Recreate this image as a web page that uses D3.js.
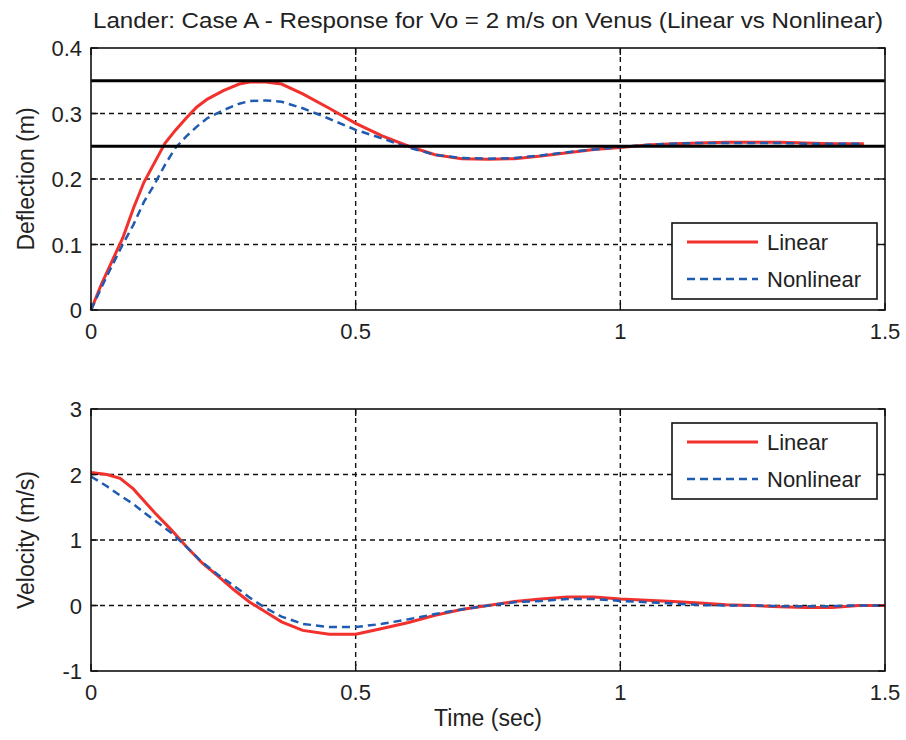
<!DOCTYPE html>
<html>
<head>
<meta charset="utf-8">
<script src="https://cdn.jsdelivr.net/npm/d3@7"></script>
<style>
    body { margin: 0; background: #fff; }
    text { font-family: "Liberation Sans", Arial, sans-serif; fill: #222; }
</style>
</head>
<body>
<svg id="chart" width="906" height="740"></svg>
<script>
// values
var titleText = "Lander:  Case A - Response for Vo = 2 m/s on Venus (Linear vs Nonlinear)";
var seriesNames = ["Linear", "Nonlinear"];

var tDefl = [0, 0.02, 0.04, 0.06, 0.08, 0.10, 0.12, 0.14, 0.16, 0.18, 0.20, 0.22, 0.25, 0.28, 0.30,
    0.33, 0.36, 0.40, 0.45, 0.50, 0.55, 0.60, 0.65, 0.70, 0.75, 0.80, 0.85, 0.90, 0.95, 1.00,
    1.05, 1.10, 1.15, 1.20, 1.25, 1.30, 1.35, 1.40, 1.46];
var deflLinear = [0, 0.04, 0.075, 0.11, 0.155, 0.195, 0.225, 0.255, 0.275, 0.293, 0.31, 0.322, 0.335, 0.345, 0.348,
    0.348, 0.345, 0.33, 0.308, 0.285, 0.266, 0.25, 0.237, 0.231, 0.23, 0.231, 0.235, 0.24, 0.245, 0.248,
    0.252, 0.254, 0.255, 0.256, 0.256, 0.256, 0.255, 0.254, 0.254];
var deflNonlinear = [0, 0.035, 0.068, 0.10, 0.13, 0.165, 0.192, 0.222, 0.248, 0.265, 0.28, 0.293, 0.305, 0.315, 0.319,
    0.32, 0.318, 0.308, 0.292, 0.275, 0.262, 0.248, 0.237, 0.232, 0.231, 0.232, 0.236, 0.241, 0.245, 0.249,
    0.252, 0.254, 0.255, 0.255, 0.255, 0.255, 0.254, 0.254, 0.254];

var tVel = [0, 0.03, 0.055, 0.08, 0.10, 0.12, 0.15, 0.18, 0.21, 0.24, 0.27, 0.30, 0.33, 0.36, 0.40,
    0.45, 0.50, 0.55, 0.60, 0.65, 0.70, 0.75, 0.80, 0.85, 0.90, 0.95, 1.00, 1.05, 1.10, 1.15,
    1.20, 1.25, 1.30, 1.35, 1.40, 1.45, 1.50];
var velLinear = [2.03, 2.0, 1.94, 1.78, 1.6, 1.42, 1.17, 0.9, 0.65, 0.45, 0.24, 0.05, -0.1, -0.25, -0.38,
    -0.44, -0.44, -0.35, -0.26, -0.15, -0.06, 0.0, 0.06, 0.1, 0.13, 0.13, 0.1, 0.08, 0.06, 0.04,
    0.01, 0.0, -0.02, -0.03, -0.03, 0.0, 0.0];
var velNonlinear = [1.97, 1.82, 1.68, 1.55, 1.42, 1.3, 1.12, 0.9, 0.66, 0.47, 0.3, 0.12, -0.04, -0.17, -0.28,
    -0.33, -0.33, -0.28, -0.21, -0.13, -0.06, 0.0, 0.05, 0.07, 0.1, 0.1, 0.07, 0.05, 0.03, 0.01,
    0.0, 0.0, -0.01, -0.01, -0.01, 0.0, 0.0];

var deflLimits = [0.35, 0.25];
var xTicks = [0, 0.5, 1, 1.5];
var deflTicks = [0, 0.1, 0.2, 0.3, 0.4];
var velTicks = [-1, 0, 1, 2, 3];

var red = "#f2302c", blue = "#1f5bb0";
var svg = d3.select("#chart");

var x = d3.scaleLinear().domain([0, 1.5]).range([91, 885]);

function panel(opts) {
    var y = d3.scaleLinear().domain(opts.domain).range([opts.bottom, opts.top]);
    var g = svg.append("g");

    // dashed grid
    g.selectAll("line.hgrid")
        .data(opts.ticks.slice(1, -1))
        .enter().append("line")
        .attr("x1", x(0)).attr("x2", x(1.5))
        .attr("y1", y).attr("y2", y)
        .attr("stroke", "#111").attr("stroke-width", 1.4)
        .attr("stroke-dasharray", "5,4");
    g.selectAll("line.vgrid")
        .data(xTicks.slice(1, -1))
        .enter().append("line")
        .attr("x1", x).attr("x2", x)
        .attr("y1", opts.top).attr("y2", opts.bottom)
        .attr("stroke", "#111").attr("stroke-width", 1.4)
        .attr("stroke-dasharray", "5,4");

    var line = d3.line()
        .x(function(d) { return x(d[0]); })
        .y(function(d) { return y(d[1]); });

    g.append("path")
        .datum(d3.zip(opts.t, opts.lin))
        .attr("d", line)
        .attr("fill", "none").attr("stroke", red).attr("stroke-width", 3);
    g.append("path")
        .datum(d3.zip(opts.t, opts.non))
        .attr("d", line)
        .attr("fill", "none").attr("stroke", blue).attr("stroke-width", 2.5)
        .attr("stroke-dasharray", "8,5");

    if (opts.limits) {
        g.selectAll("line.limit")
            .data(opts.limits)
            .enter().append("line")
            .attr("x1", x(0)).attr("x2", x(1.5))
            .attr("y1", y).attr("y2", y)
            .attr("stroke", "#000").attr("stroke-width", 3);
    }

    // box and inward ticks
    g.append("rect")
        .attr("x", x(0)).attr("y", opts.top)
        .attr("width", x(1.5) - x(0)).attr("height", opts.bottom - opts.top)
        .attr("fill", "none").attr("stroke", "#111").attr("stroke-width", 1.6);
    var tl = 7;
    opts.ticks.forEach(function(v) {
        g.append("line").attr("x1", x(0)).attr("x2", x(0) + tl).attr("y1", y(v)).attr("y2", y(v)).attr("stroke", "#111").attr("stroke-width", 1.4);
        g.append("line").attr("x1", x(1.5)).attr("x2", x(1.5) - tl).attr("y1", y(v)).attr("y2", y(v)).attr("stroke", "#111").attr("stroke-width", 1.4);
    });
    xTicks.forEach(function(v) {
        g.append("line").attr("x1", x(v)).attr("x2", x(v)).attr("y1", opts.top).attr("y2", opts.top + tl).attr("stroke", "#111").attr("stroke-width", 1.4);
        g.append("line").attr("x1", x(v)).attr("x2", x(v)).attr("y1", opts.bottom).attr("y2", opts.bottom - tl).attr("stroke", "#111").attr("stroke-width", 1.4);
    });

    g.selectAll("text.ytick")
        .data(opts.ticks)
        .enter().append("text")
        .attr("x", 82).attr("y", function(d) { return y(d) + 8; })
        .attr("text-anchor", "end").attr("font-size", 22)
        .text(function(d) { return d; });
    g.selectAll("text.xtick")
        .data(xTicks)
        .enter().append("text")
        .attr("x", x).attr("y", opts.bottom + 29)
        .attr("text-anchor", "middle").attr("font-size", 22)
        .text(function(d) { return d; });

    g.append("text")
        .attr("transform", "translate(34," + ((opts.top + opts.bottom) / 2) + ") rotate(-90)")
        .attr("text-anchor", "middle").attr("font-size", 23)
        .text(opts.label);

    // legend
    var lg = g.append("g").attr("transform", "translate(672," + opts.legendTop + ")");
    lg.append("rect").attr("width", 205).attr("height", 76)
        .attr("fill", "#fff").attr("stroke", "#111").attr("stroke-width", 1.6);
    lg.append("line").attr("x1", 15).attr("x2", 86).attr("y1", 19).attr("y2", 19)
        .attr("stroke", red).attr("stroke-width", 3);
    lg.append("line").attr("x1", 15).attr("x2", 86).attr("y1", 56).attr("y2", 56)
        .attr("stroke", blue).attr("stroke-width", 2.5).attr("stroke-dasharray", "8,5");
    lg.selectAll("text")
        .data(seriesNames)
        .enter().append("text")
        .attr("x", 95).attr("y", function(d, i) { return 27 + i * 37; })
        .attr("font-size", 22)
        .text(function(d) { return d; });
}

panel({ top: 48, bottom: 310, domain: [0, 0.4], ticks: deflTicks, t: tDefl, lin: deflLinear, non: deflNonlinear,
    limits: deflLimits, label: "Deflection (m)", legendTop: 223 });
panel({ top: 409, bottom: 671, domain: [-1, 3], ticks: velTicks, t: tVel, lin: velLinear, non: velNonlinear,
    label: "Velocity (m/s)", legendTop: 423 });

svg.append("text")
    .attr("x", 488).attr("y", 28)
    .attr("text-anchor", "middle").attr("font-size", 22)
    .attr("textLength", 790).attr("lengthAdjust", "spacingAndGlyphs")
    .text(titleText);

svg.append("text")
    .attr("x", 488).attr("y", 726)
    .attr("text-anchor", "middle").attr("font-size", 23)
    .text("Time (sec)");
</script>
</body>
</html>
